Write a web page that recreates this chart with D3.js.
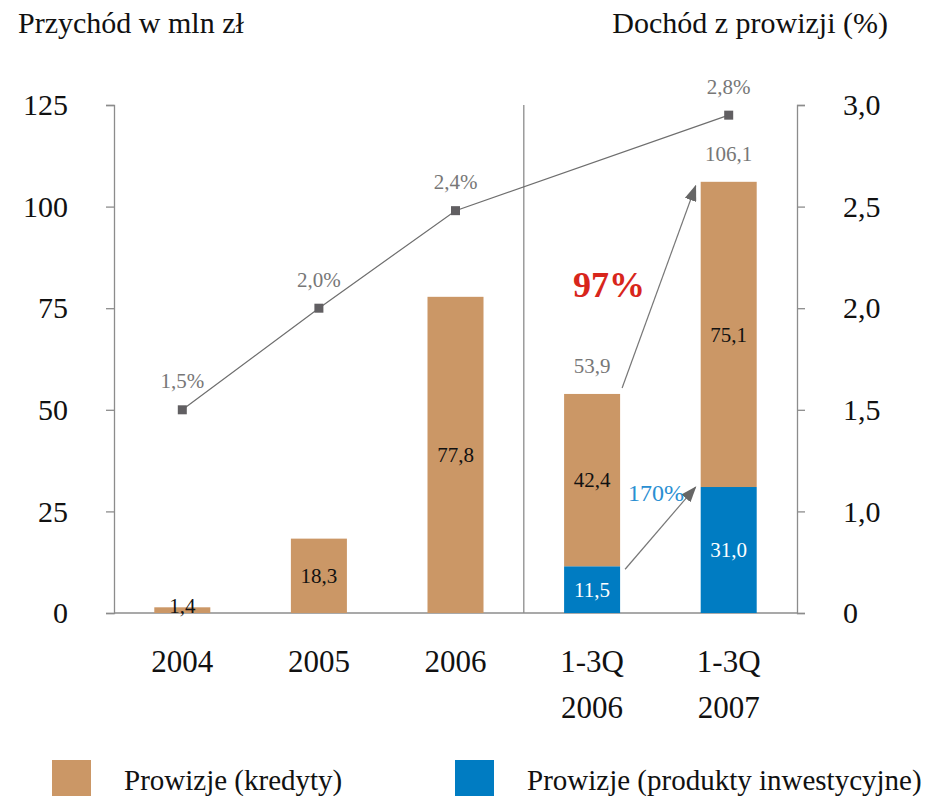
<!DOCTYPE html>
<html>
<head>
<meta charset="utf-8">
<script src="https://cdn.jsdelivr.net/npm/d3@7/dist/d3.min.js"></script>
<style>
  body { margin: 0; background: #fff; }
  svg { display: block; font-family: "Liberation Serif", "Times New Roman", serif; }
</style>
</head>
<body>
<svg id="chart" width="930" height="796"></svg>
<script>
// data
var categories = ["2004", "2005", "2006", "1-3Q 2006", "1-3Q 2007"];
var kredyty = [1.4, 18.3, 77.8, 42.4, 75.1];
var inwestycyjne = [0, 0, 0, 11.5, 31.0];
var pctCategories = ["2004", "2005", "2006", "1-3Q 2007"];
// marker positions; printed labels below
var pctValues = [1.5, 2.0, 2.48, 2.95];
var pctLabels = ["1,5%", "2,0%", "2,4%", "2,8%"];
var leftTicks = [0, 25, 50, 75, 100, 125];
var rightTicks = [0.5, 1.0, 1.5, 2.0, 2.5, 3.0];
var rightTickLabels = ["0", "1,0", "1,5", "2,0", "2,5", "3,0"];
var growthLabels = ["97%", "170%"];
var seriesNames = ["Prowizje (kredyty)", "Prowizje (produkty inwestycyjne)"];

var colTan = "#cb9766", colBlue = "#007cc2", colAxis = "#8c8c8c";

var pl = d3.formatLocale({decimal: ",", thousands: " ", grouping: [3], currency: ["", " zł"]});
var f1 = pl.format(".1f");

var svg = d3.select("#chart");

var x = d3.scaleBand()
    .domain(categories)
    .range([114, 797])
    .paddingInner(0.59)
    .paddingOuter(0.295);

var yL = d3.scaleLinear().domain([0, 125]).range([613, 105]);
var yR = d3.scaleLinear().domain([0.5, 3.0]).range([613, 105]);

var rows = categories.map(function(c, i) {
  return {cat: c, inw: inwestycyjne[i], kred: kredyty[i]};
});
var stacked = d3.stack().keys(["inw", "kred"])(rows);

// axes
var axL = svg.append("g").attr("transform", "translate(114,0)")
    .call(d3.axisLeft(yL).tickValues(leftTicks).tickSize(8).tickPadding(38));
var axR = svg.append("g").attr("transform", "translate(797,0)")
    .call(d3.axisRight(yR).tickValues(rightTicks).tickSize(8).tickPadding(38)
      .tickFormat(function(d, i) { return rightTickLabels[i]; }));
[axL, axR].forEach(function(a) {
  a.selectAll("path, line").attr("stroke", colAxis).attr("stroke-width", 1.3);
  a.selectAll("text").attr("fill", "#111").style("font-size", "30px")
    .style("font-family", "Liberation Serif, serif");
});
axR.selectAll("text").attr("text-anchor", "start");

// baseline
svg.append("line")
    .attr("x1", 114).attr("x2", 797)
    .attr("y1", yL(0)).attr("y2", yL(0))
    .attr("stroke", colAxis).attr("stroke-width", 1.3);

// separator between yearly and quarterly
var sepX = (x("2006") + x.bandwidth() + x("1-3Q 2006")) / 2;
svg.append("line")
    .attr("x1", sepX).attr("x2", sepX)
    .attr("y1", yL(125)).attr("y2", yL(0))
    .attr("stroke", colAxis).attr("stroke-width", 1.3);

// bars
var colors = {inw: colBlue, kred: colTan};
stacked.forEach(function(layer) {
  svg.append("g").selectAll("rect")
    .data(layer.filter(function(d) { return d[1] - d[0] > 0; }))
    .enter().append("rect")
      .attr("x", function(d) { return x(d.data.cat); })
      .attr("width", x.bandwidth())
      .attr("y", function(d) { return yL(d[1]); })
      .attr("height", function(d) { return yL(d[0]) - yL(d[1]); })
      .attr("fill", colors[layer.key]);

  svg.append("g").selectAll("text")
    .data(layer.filter(function(d) { return d[1] - d[0] > 0; }))
    .enter().append("text")
      .attr("x", function(d) { return x(d.data.cat) + x.bandwidth() / 2; })
      .attr("y", function(d) { return Math.min((yL(d[0]) + yL(d[1])) / 2, yL(0) - 7); })
      .attr("dy", "0.35em")
      .attr("text-anchor", "middle")
      .style("font-size", "21px")
      .attr("fill", layer.key === "inw" ? "#fff" : "#111")
      .text(function(d) { return f1(d[1] - d[0]); });
});

// totals above stacked bars
svg.append("g").selectAll("text")
  .data(rows.filter(function(d) { return d.inw > 0; }))
  .enter().append("text")
    .attr("x", function(d) { return x(d.cat) + x.bandwidth() / 2; })
    .attr("y", function(d) { return yL(d.inw + d.kred) - 28; })
    .attr("dy", "0.35em")
    .attr("text-anchor", "middle")
    .style("font-size", "21px")
    .attr("fill", "#777")
    .text(function(d) { return f1(d.inw + d.kred); });

// line of commission income share
var pts = pctCategories.map(function(c, i) {
  return {cx: x(c) + x.bandwidth() / 2, cy: yR(pctValues[i]), label: pctLabels[i]};
});
svg.append("path")
    .datum(pts)
    .attr("fill", "none")
    .attr("stroke", "#6e6e6e")
    .attr("stroke-width", 1.2)
    .attr("d", d3.line().x(function(d) { return d.cx; }).y(function(d) { return d.cy; }));
svg.append("g").selectAll("rect")
  .data(pts).enter().append("rect")
    .attr("x", function(d) { return d.cx - 4.5; })
    .attr("y", function(d) { return d.cy - 4.5; })
    .attr("width", 9).attr("height", 9)
    .attr("fill", "#615f62");
svg.append("g").selectAll("text")
  .data(pts).enter().append("text")
    .attr("x", function(d) { return d.cx; })
    .attr("y", function(d) { return d.cy - 29; })
    .attr("dy", "0.35em")
    .attr("text-anchor", "middle")
    .style("font-size", "21px")
    .attr("fill", "#777")
    .text(function(d) { return d.label; });

// growth arrows
svg.append("defs").append("marker")
    .attr("id", "head")
    .attr("markerUnits", "userSpaceOnUse")
    .attr("viewBox", "0 0 16 12")
    .attr("refX", 15).attr("refY", 6)
    .attr("markerWidth", 16).attr("markerHeight", 12)
    .attr("orient", "auto")
  .append("path")
    .attr("d", "M0,0L16,6L0,12Z")
    .attr("fill", "#666");

var q1 = "1-3Q 2006", q2 = "1-3Q 2007";
var arrows = [
  {x1: x(q1) + x.bandwidth() + 2, y1: yL(kredyty[3] + inwestycyjne[3]) - 6,
   x2: x(q2) - 5, y2: yL(kredyty[4] + inwestycyjne[4]) + 4},
  {x1: x(q1) + x.bandwidth() + 5, y1: yL(inwestycyjne[3]) + 3,
   x2: x(q2) - 5, y2: yL(inwestycyjne[4])}
];
svg.append("g").selectAll("line")
  .data(arrows).enter().append("line")
    .attr("x1", function(d) { return d.x1; })
    .attr("y1", function(d) { return d.y1; })
    .attr("x2", function(d) { return d.x2; })
    .attr("y2", function(d) { return d.y2; })
    .attr("stroke", "#777")
    .attr("stroke-width", 1.2)
    .attr("marker-end", "url(#head)");

svg.append("text")
    .attr("x", x(q1) + x.bandwidth() / 2 + 17)
    .attr("y", 297)
    .attr("text-anchor", "middle")
    .style("font-size", "36px")
    .style("font-weight", "bold")
    .attr("fill", "#d8261c")
    .text(growthLabels[0]);
svg.append("text")
    .attr("x", x(q1) + x.bandwidth() + 8)
    .attr("y", 501)
    .style("font-size", "24px")
    .attr("fill", "#2a8fd2")
    .text(growthLabels[1]);

// category labels
svg.append("g").selectAll("text")
  .data(categories).enter().append("text")
    .attr("x", function(d) { return x(d) + x.bandwidth() / 2; })
    .attr("y", 672)
    .attr("text-anchor", "middle")
    .style("font-size", "31px")
    .attr("fill", "#111")
    .each(function(d) {
      var parts = d.split(" ");
      var t = d3.select(this);
      parts.forEach(function(p, i) {
        t.append("tspan")
          .attr("x", x(d) + x.bandwidth() / 2)
          .attr("dy", i === 0 ? 0 : 46)
          .text(p);
      });
    });

// axis titles
svg.append("text")
    .attr("x", 18).attr("y", 33)
    .style("font-size", "30px")
    .attr("fill", "#111")
    .text("Przychód w mln zł");
svg.append("text")
    .attr("x", 888).attr("y", 33)
    .attr("text-anchor", "end")
    .style("font-size", "30px")
    .attr("fill", "#111")
    .text("Dochód z prowizji (%)");

// legend
var legend = svg.append("g").selectAll("g")
  .data(seriesNames).enter().append("g")
    .attr("transform", function(d, i) { return "translate(" + (i === 0 ? 52 : 455) + ",760)"; });
legend.append("rect")
    .attr("width", 39).attr("height", 40)
    .attr("fill", function(d, i) { return i === 0 ? colTan : colBlue; });
legend.append("text")
    .attr("x", 72).attr("y", 30)
    .style("font-size", "29px")
    .attr("fill", "#111")
    .text(function(d) { return d; });
</script>
</body>
</html>
